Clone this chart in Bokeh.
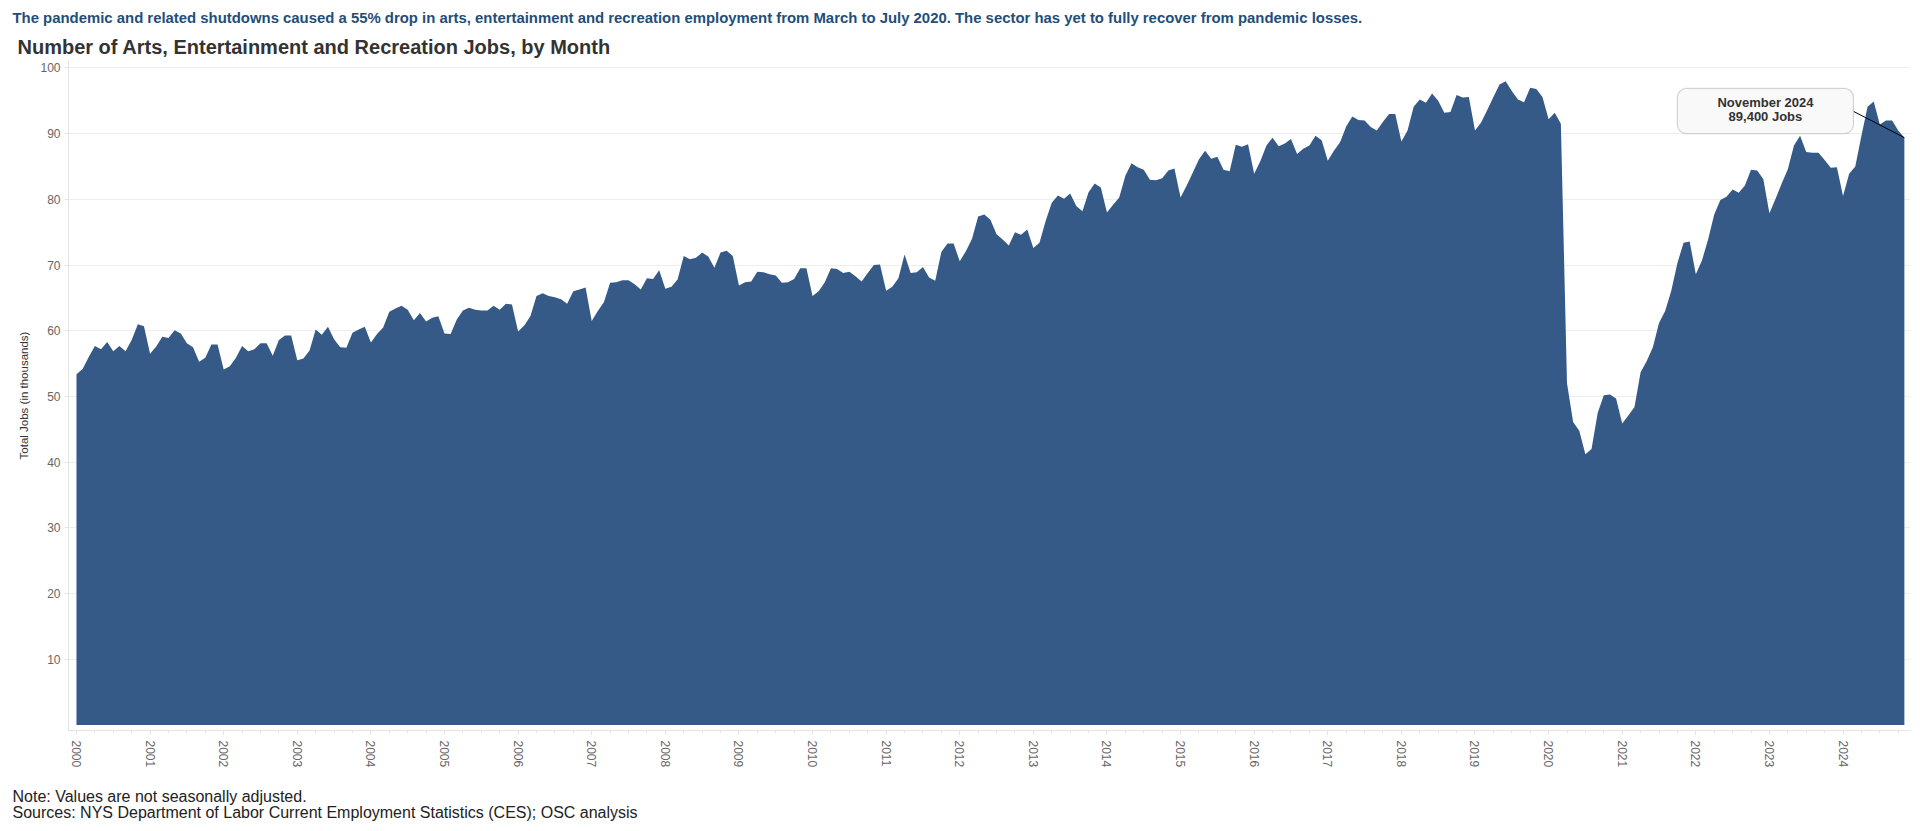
import math
from bokeh.plotting import figure
from bokeh.models import Range1d, FixedTicker, Label, BoxAnnotation, ColumnDataSource, Title
from bokeh.embed import file_html
from bokeh.resources import INLINE

# Monthly arts, entertainment & recreation jobs (thousands), Jan 2000 - Nov 2024
jobs_2000 = [53.4, 54.2, 56.0, 57.7, 57.2, 58.3, 56.9, 57.7, 56.9, 58.6, 61.0, 60.7]
jobs_2001 = [56.5, 57.6, 59.1, 58.9, 60.1, 59.6, 58.1, 57.5, 55.3, 55.9, 57.9, 57.9]
jobs_2002 = [54.1, 54.6, 55.9, 57.7, 56.9, 57.2, 58.1, 58.1, 56.2, 58.6, 59.3, 59.3]
jobs_2003 = [55.5, 55.8, 57.0, 60.2, 59.4, 60.6, 58.7, 57.5, 57.4, 59.7, 60.2, 60.6]
jobs_2004 = [58.2, 59.5, 60.5, 62.9, 63.4, 63.8, 63.2, 61.6, 62.7, 61.4, 62.0, 62.2]
jobs_2005 = [59.6, 59.5, 61.7, 63.1, 63.5, 63.2, 63.1, 63.1, 63.8, 63.2, 64.1, 64.0]
jobs_2006 = [59.9, 60.8, 62.2, 65.3, 65.7, 65.3, 65.1, 64.8, 64.1, 66.0, 66.3, 66.6]
jobs_2007 = [61.5, 63.0, 64.4, 67.3, 67.4, 67.7, 67.7, 67.1, 66.3, 68.0, 67.9, 69.2]
jobs_2008 = [66.4, 66.7, 67.8, 71.4, 70.9, 71.1, 71.9, 71.3, 69.6, 71.9, 72.2, 71.4]
jobs_2009 = [66.9, 67.4, 67.5, 69.0, 68.9, 68.6, 68.4, 67.3, 67.4, 67.9, 69.5, 69.5]
jobs_2010 = [65.3, 66.0, 67.4, 69.5, 69.4, 68.8, 69.0, 68.3, 67.5, 68.8, 70.0, 70.1]
jobs_2011 = [66.1, 66.7, 68.0, 71.6, 68.8, 68.9, 69.7, 68.1, 67.6, 72.0, 73.3, 73.3]
jobs_2012 = [70.6, 72.1, 74.0, 77.4, 77.7, 76.9, 74.7, 73.9, 73.0, 75.0, 74.6, 75.4]
jobs_2013 = [72.6, 73.4, 76.7, 79.5, 80.6, 80.1, 80.9, 79.0, 78.2, 81.1, 82.4, 81.8]
jobs_2014 = [78.0, 79.2, 80.3, 83.6, 85.5, 84.9, 84.5, 83.0, 82.9, 83.2, 84.4, 84.7]
jobs_2015 = [80.3, 82.1, 84.1, 86.1, 87.4, 86.2, 86.5, 84.5, 84.3, 88.3, 88.0, 88.4]
jobs_2016 = [83.9, 85.8, 88.2, 89.4, 88.1, 88.5, 89.2, 86.9, 87.7, 88.2, 89.7, 89.0]
jobs_2017 = [85.9, 87.4, 88.7, 91.1, 92.6, 92.1, 92.0, 91.0, 90.5, 91.8, 93.0, 93.0]
jobs_2018 = [88.8, 90.5, 94.1, 95.2, 94.7, 96.1, 95.0, 93.2, 93.3, 95.9, 95.5, 95.6]
jobs_2019 = [90.5, 91.7, 93.6, 95.6, 97.5, 98.0, 96.5, 95.2, 94.8, 97.0, 96.8, 95.6]
jobs_2020 = [92.2, 93.2, 91.5, 52.0, 46.1, 44.8, 41.2, 42.0, 47.5, 50.2, 50.3, 49.7]
jobs_2021 = [45.9, 47.1, 48.4, 53.7, 55.4, 57.5, 61.2, 63.0, 66.1, 70.3, 73.4, 73.6]
jobs_2022 = [68.6, 70.7, 73.9, 77.7, 79.9, 80.4, 81.5, 81.0, 82.1, 84.5, 84.4, 83.1]
jobs_2023 = [77.9, 80.1, 82.4, 84.6, 88.2, 89.7, 87.2, 87.1, 87.1, 86.0, 84.8, 84.9]
jobs_2024 = [80.5, 83.9, 85.0, 89.7, 94.1, 94.9, 91.4, 92.0, 92.0, 90.5, 89.4]

year_labels = [str(y) for y in range(2000, 2025)]
y_ticks = [10, 20, 30, 40, 50, 60, 70, 80, 90, 100]

series = (jobs_2000 + jobs_2001 + jobs_2002 + jobs_2003 + jobs_2004 + jobs_2005 +
          jobs_2006 + jobs_2007 + jobs_2008 + jobs_2009 + jobs_2010 + jobs_2011 +
          jobs_2012 + jobs_2013 + jobs_2014 + jobs_2015 + jobs_2016 + jobs_2017 +
          jobs_2018 + jobs_2019 + jobs_2020 + jobs_2021 + jobs_2022 + jobs_2023 + jobs_2024)
month_idx = list(range(len(series)))
src = ColumnDataSource(dict(x=month_idx, y=series))

FONT = "Liberation Sans"
AREA = "#355a88"

p = figure(width=1912, height=827, output_backend="svg", toolbar_location=None,
           x_range=Range1d(-1.3, 299.0), y_range=Range1d(-0.84, 101.14),
           min_border_left=68, min_border_right=2, min_border_top=60, min_border_bottom=97)
p.title.text = ""
p.title.visible = False
p.outline_line_color = None
p.background_fill_color = "white"
p.border_fill_color = "white"

p.varea(x="x", y1=0, y2="y", source=src, fill_color=AREA, fill_alpha=1)

# axes
p.xgrid.visible = False
p.ygrid.grid_line_color = "#eeeeee"
p.ygrid.ticker = FixedTicker(ticks=y_ticks)

yax = p.yaxis[0]
yax.ticker = FixedTicker(ticks=y_ticks)
yax.axis_line_color = "#e3e3e3"
yax.major_tick_line_color = "#e3e3e3"
yax.major_tick_out = 4
yax.major_tick_in = 0
yax.minor_tick_line_color = None
yax.major_label_standoff = 4
yax.major_label_text_font = FONT
yax.major_label_text_font_size = "12px"
yax.major_label_text_color = "#666666"
yax.axis_label = "Total Jobs (in thousands)"
yax.axis_label_text_font = FONT
yax.axis_label_text_font_size = "11.5px"
yax.axis_label_text_font_style = "normal"
yax.axis_label_text_color = "#333333"
yax.axis_label_standoff = 7

xax = p.xaxis[0]
xax.ticker = FixedTicker(ticks=[12 * i for i in range(len(year_labels))],
                         minor_ticks=list(range(0, len(series) + 1, 3)))
xax.major_label_overrides = {12 * i: lab for i, lab in enumerate(year_labels)}
xax.major_label_orientation = -math.pi / 2
xax.axis_line_color = "#e3e3e3"
xax.major_tick_line_color = "#dddddd"
xax.minor_tick_line_color = "#e6e6e6"
xax.major_tick_out = 4
xax.major_tick_in = 0
xax.minor_tick_out = 3
xax.minor_tick_in = 0
xax.major_label_standoff = 6
xax.major_label_text_font = FONT
xax.major_label_text_font_size = "12px"
xax.major_label_text_color = "#666666"

# titles above (first added = closest to the frame)
p.add_layout(Title(text="Number of Arts, Entertainment and Recreation Jobs, by Month",
                   text_font=FONT, text_font_size="20px", text_font_style="bold",
                   text_color="#333333", align="left", offset=-51, standoff=5), "above")
p.add_layout(Title(text="The pandemic and related shutdowns caused a 55% drop in arts, entertainment and recreation employment from March to July 2020. The sector has yet to fully recover from pandemic losses.",
                   text_font=FONT, text_font_size="14.9px", text_font_style="bold",
                   text_color="#1f4e79", align="left", offset=-56, standoff=12), "above")
# spacer below the axis, then the notes
p.add_layout(Title(text=" ", text_font=FONT, text_font_size="1px", standoff=14), "below")
p.add_layout(Title(text="Note: Values are not seasonally adjusted.\nSources: NYS Department of Labor Current Employment Statistics (CES); OSC analysis",
                   text_font=FONT, text_font_size="16px", text_font_style="normal",
                   text_line_height=0.95, vertical_align="top",
                   text_color="#222222", align="left", offset=-56, standoff=0), "below")

# callout for the last data point
last_x = month_idx[-1]
last_y = series[-1]
box_left, box_right, box_top, box_bottom = 261.0, 289.7, 96.9, 90.0
p.segment(x0=[box_right], y0=[93.4], x1=[last_x], y1=[last_y], line_color="black", line_width=1)
p.add_layout(BoxAnnotation(left=box_left, right=box_right, top=box_top, bottom=box_bottom,
                           fill_color="#f9f9f9", fill_alpha=1, line_color="#777777",
                           line_width=1.2, border_radius=9, level="overlay"))
p.add_layout(Label(x=(box_left + box_right) / 2, y=94.75, text="November 2024",
                   text_font=FONT, text_font_size="13px", text_font_style="bold",
                   text_color="#333333", text_align="center", text_baseline="middle",
                   level="overlay"))
p.add_layout(Label(x=(box_left + box_right) / 2, y=92.55, text="{:,.0f} Jobs".format(last_y * 1000),
                   text_font=FONT, text_font_size="13px", text_font_style="bold",
                   text_color="#333333", text_align="center", text_baseline="middle",
                   level="overlay"))

open("out.html", "w").write(file_html(p, INLINE))
